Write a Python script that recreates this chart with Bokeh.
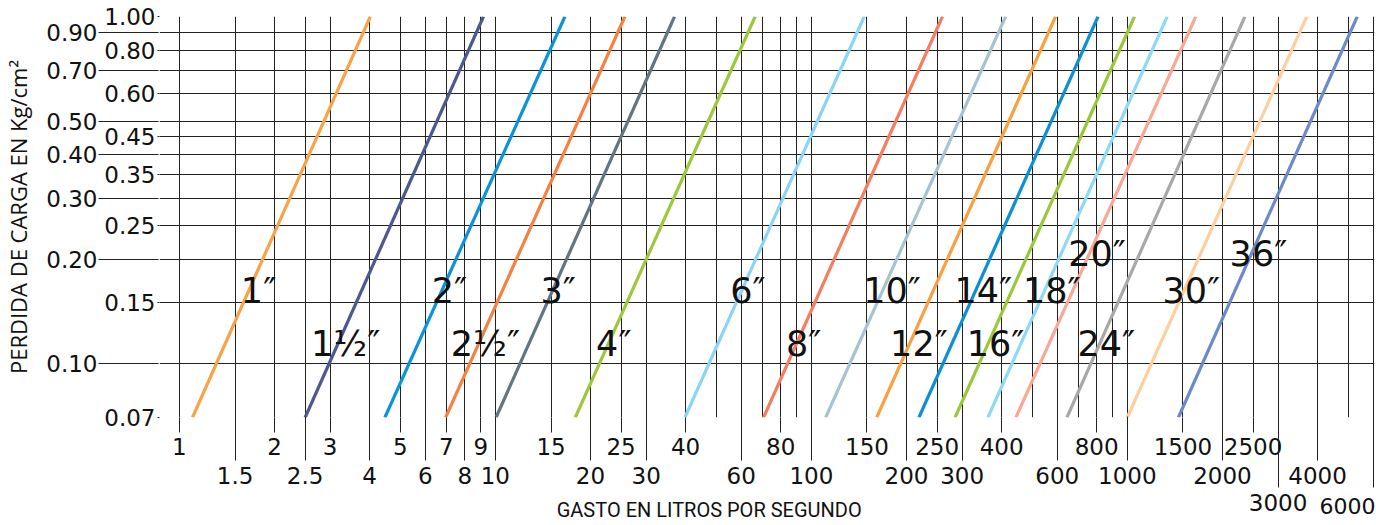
from bokeh.plotting import figure
from bokeh.models import FixedTicker, LogAxis, PrintfTickFormatter, ColumnDataSource
from bokeh.core.properties import value
from bokeh.embed import file_html
from bokeh.resources import INLINE

# ---------------- data ----------------
diameters = ["1″", "1½″", "2″", "2½″", "3″", "4″", "6″", "8″", "10″", "12″",
             "14″", "16″", "18″", "20″", "24″", "30″", "36″"]
# flow (l/s) where each pipe line meets the 0.07 and the 1.00 kg/cm² levels
q_at_low = [1.10, 2.50, 4.47, 6.96, 10.05, 17.9, 39.8, 70.6, 111, 161,
            219, 285, 362, 444, 644, 1000, 1451]
q_at_high = [4.02, 9.17, 16.6, 25.7, 36.9, 66.4, 147, 260, 412, 593,
             808, 1054, 1337, 1647, 2356, 3697, 5343]
p_low = 0.07
p_high = 1.00
colors = ["#F7A347", "#4A5A8C", "#0A93D9", "#F58140", "#627581", "#9DC83B",
          "#8DD3F6", "#F47D62", "#A7C3D3", "#F9A140", "#0D8FD4", "#99C83A",
          "#8ED8F8", "#F8A894", "#A8A8A8", "#FDCF9E", "#6C89C8"]

# label anchors (flow, pressure) for the diameter names
label_q = [1.78, 3.36, 7.15, 9.30, 15.8, 23.7, 63.0, 94.5, 180, 219,
           350, 383, 577, 802, 858, 1595, 2600]
label_p = [0.162, 0.1136, 0.162, 0.1136, 0.162, 0.1136, 0.162, 0.1136, 0.162, 0.1136,
           0.162, 0.1136, 0.162, 0.207, 0.1136, 0.162, 0.207]

x_row1 = ["1", "2", "3", "5", "7", "9", "15", "25", "40", "80", "150", "250",
          "400", "800", "1500", "2500"]
x_row2 = ["1.5", "2.5", "4", "6", "8", "10", "20", "30", "60", "100", "200",
          "300", "600", "1000", "2000", "4000"]
x_row3 = ["3000", "6000"]
x_grid_only = [50, 70, 90, 500, 700, 900, 5000]
y_inner = [1.00, 0.80, 0.60, 0.45, 0.35, 0.25, 0.15, 0.07]
y_outer = [0.90, 0.70, 0.50, 0.40, 0.30, 0.20, 0.10]
x_title = "GASTO EN LITROS POR SEGUNDO"
y_title = "PERDIDA DE CARGA EN Kg/cm²"
# flow values under which the x title and the shifted "6000" are centred
x_title_at = 47.5
six_label_at = 4980

x1 = [float(s) for s in x_row1]
x2 = [float(s) for s in x_row2]
x3 = [float(s) for s in x_row3]

GRID = "#222222"
TICKFONT = "DejaVu Sans"
TICKSIZE = "23px"

p = figure(width=1376, height=525, x_axis_type="log", y_axis_type="log",
           x_range=(0.8649, 6058), y_range=(p_low, p_high),
           output_backend="svg", toolbar_location=None,
           min_border_left=155, min_border_right=2, min_border_top=16,
           min_border_bottom=108)
p.outline_line_color = None
p.background_fill_color = "white"

p.xgrid.ticker = FixedTicker(ticks=sorted(x1 + x2 + x3 + x_grid_only))
p.ygrid.ticker = FixedTicker(ticks=sorted(y_inner + y_outer))
for g in (p.xgrid[0], p.ygrid[0]):
    g.grid_line_color = GRID
    g.grid_line_width = 1
    g.grid_line_alpha = 1


def style_axis(ax):
    ax.axis_line_color = None
    ax.major_tick_line_color = GRID
    ax.major_tick_line_width = 1
    ax.minor_tick_line_color = None
    ax.major_label_text_font = TICKFONT
    ax.major_label_text_font_size = TICKSIZE
    ax.major_label_text_color = "#111111"


# bottom rows of labels
ax1 = p.xaxis[0]
ax1.ticker = FixedTicker(ticks=x1)
ax1.major_label_overrides = {v: s for v, s in zip(x1, x_row1)}
style_axis(ax1)
ax1.major_tick_in = 0
ax1.major_tick_out = 15
ax1.major_label_standoff = 5

ax2 = LogAxis(ticker=FixedTicker(ticks=x2),
              major_label_overrides={v: s for v, s in zip(x2, x_row2)})
style_axis(ax2)
ax2.major_tick_in = 41
ax2.major_tick_out = 3
ax2.major_label_standoff = 6
p.add_layout(ax2, "below")

ax3 = LogAxis(ticker=FixedTicker(ticks=x3),
              major_label_overrides={x3[0]: x_row3[0], x3[1]: ""})
style_axis(ax3)
ax3.major_tick_in = 70
ax3.major_tick_out = 1
ax3.major_label_standoff = 6
p.add_layout(ax3, "below")

# the "6000" sits left of its line, slightly lower and smaller
ax6 = LogAxis(ticker=FixedTicker(ticks=[six_label_at]),
              major_label_overrides={six_label_at: x_row3[1]})
style_axis(ax6)
ax6.major_tick_line_color = None
ax6.major_tick_in = 0
ax6.major_tick_out = 0
ax6.major_label_standoff = -16
ax6.major_label_text_font_size = "22px"
p.add_layout(ax6, "below")

# x title, without tick line
axG = LogAxis(ticker=FixedTicker(ticks=[x_title_at]),
              major_label_overrides={x_title_at: x_title})
style_axis(axG)
axG.major_tick_line_color = None
axG.major_tick_in = 0
axG.major_tick_out = 0
axG.major_label_standoff = -19
axG.major_label_text_font = "Roboto"
axG.major_label_text_font_size = "20px"
p.add_layout(axG, "below")

# left columns of labels
ayA = p.yaxis[0]
ayA.ticker = FixedTicker(ticks=y_inner)
ayA.formatter = PrintfTickFormatter(format="%.2f")
style_axis(ayA)
ayA.major_tick_in = 0
ayA.major_tick_out = 2
ayA.major_label_standoff = 2

ayB = LogAxis(ticker=FixedTicker(ticks=y_outer),
              formatter=PrintfTickFormatter(format="%.2f"))
style_axis(ayB)
ayB.major_tick_in = 57
ayB.major_tick_out = 3
ayB.major_label_standoff = 1
ayB.axis_label = y_title
ayB.axis_label_text_font = "Open Sans"
ayB.axis_label_text_font_size = "22px"
ayB.axis_label_text_font_style = "normal"
ayB.axis_label_text_color = "#111111"
ayB.axis_label_standoff = 10
p.add_layout(ayB, "left")

# pipe lines
src = ColumnDataSource(dict(x0=q_at_low, x1=q_at_high,
                            y0=[p_low] * len(q_at_low), y1=[p_high] * len(q_at_high),
                            c=colors))
p.segment(x0="x0", y0="y0", x1="x1", y1="y1", color="c", line_width=3.2, source=src)

lsrc = ColumnDataSource(dict(x=label_q, y=label_p, t=diameters))
p.text(x="x", y="y", text="t", source=lsrc, text_font=value("DejaVu Sans"),
       text_font_size=value("35px"), text_align="center", text_baseline="middle",
       text_color="#111111")

open("out.html", "w").write(file_html(p, INLINE))
